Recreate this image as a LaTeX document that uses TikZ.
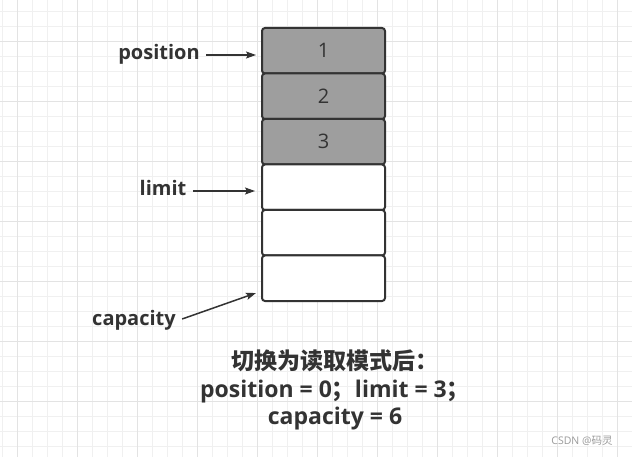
\documentclass[tikz,border=0pt]{standalone}
\usepackage{fontspec}
\setmainfont{Open Sans}
\newfontfamily\cjk{Noto Sans CJK SC}
\usetikzlibrary{positioning,arrows.meta}
\definecolor{ink}{HTML}{333333}
\definecolor{cellgray}{HTML}{9E9E9E}
\definecolor{gridminor}{HTML}{F0F0F0}
\definecolor{gridmajor}{HTML}{E3E3E3}
\definecolor{wmgray}{HTML}{9A9A9A}
\tikzset{
  cell/.style={draw=ink,line width=2pt,rounded corners=3pt,minimum width=123pt,
    minimum height=45.5pt,outer sep=0pt,inner sep=0pt,text=ink,
    font=\fontsize{20}{20}\selectfont},
  filled/.style={cell,fill=cellgray},
  blank/.style={cell,fill=white},
  pointer/.style={text=ink,font=\bfseries\fontsize{20}{20}\selectfont},
  ptr/.style={draw=ink,line width=1.5pt,shorten <=3pt,-{Stealth[length=10pt,width=7pt,inset=2pt]}},
  summary/.style={text=ink,align=center,font=\bfseries\fontsize{23}{27.5}\selectfont},
  wmark/.style={text=wmgray,font=\fontsize{10.5}{10.5}\selectfont}
}
\begin{document}
\begin{tikzpicture}[x=1pt,y=-1pt]
  \useasboundingbox[fill=white] (0,0) rectangle (632,457);
  % grid paper
  \foreach \x in {2.7,17.7,...,632} \draw[gridminor,line width=1pt] (\x,0) -- (\x,457);
  \foreach \y in {11.7,26.7,...,457} \draw[gridminor,line width=1pt] (0,\y) -- (632,\y);
  \foreach \x in {17.7,77.7,...,632} \draw[gridmajor,line width=1pt] (\x,0) -- (\x,457);
  \foreach \y in {41.7,101.7,...,457} \draw[gridmajor,line width=1pt] (0,\y) -- (632,\y);
  % buffer cells
  \node[filled] (c1) at (323.5,50.75) {1};
  \node[filled,below=0pt of c1] (c2) {2};
  \node[filled,below=0pt of c2] (c3) {3};
  \node[blank,below=0pt of c3] (c4) {};
  \node[blank,below=0pt of c4] (c5) {};
  \node[blank,below=0pt of c5] (c6) {};
  % pointers
  \node[pointer] (pos) at (159,54) {position};
  \draw[ptr,shorten >=6pt] ([yshift=-1pt]pos.east) -- ([yshift=-1pt]pos.east -| c1.west);
  \node[pointer] (lim) at (163,188) {limit};
  \draw[ptr,shorten >=7pt] ([yshift=-3pt]lim.east) -- ([yshift=-3pt]lim.east -| c4.west);
  \node[pointer] (cap) at (134,320) {capacity};
  \draw[ptr] (cap.east) -- ([xshift=-6pt,yshift=8pt]c6.south west);
  % flip note
  \node[summary] (info) at (335,390) {{\cjk 切换为读取模式后：}\\position = 0{\cjk ；}limit = 3{\cjk ；}\\capacity = 6};
  \node[wmark] (wm) at (582,441) {CSDN @{\cjk 码灵}};
\end{tikzpicture}
\end{document}
